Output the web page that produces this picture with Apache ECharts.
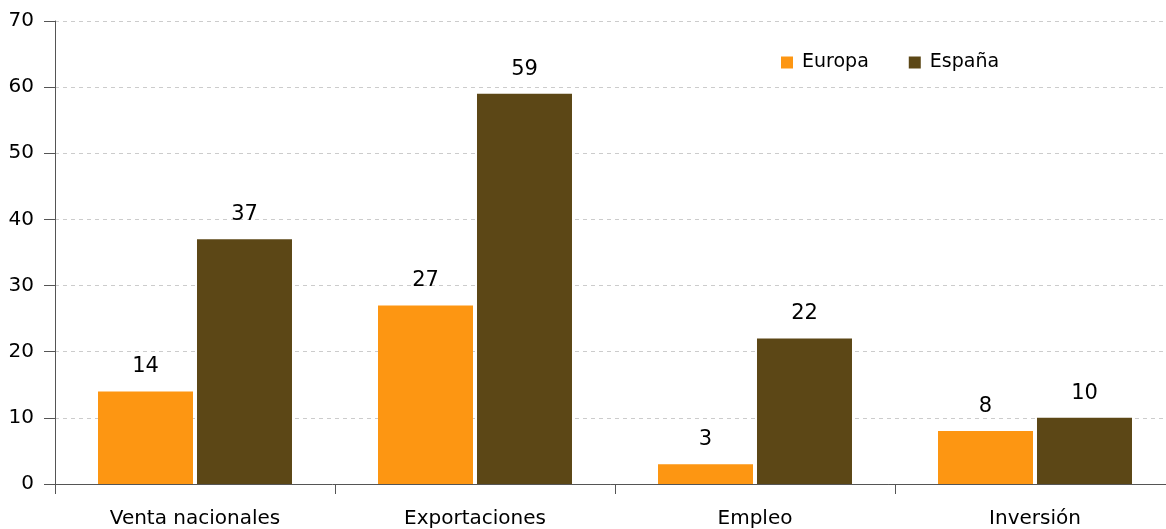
<!DOCTYPE html>
<html><head><meta charset="utf-8">
<script src="https://cdn.jsdelivr.net/npm/echarts@6/dist/echarts.min.js"></script>
<style>html,body{margin:0;padding:0;background:#fff}#c{width:1166px;height:529px}</style>
</head><body><div id="c"></div>
<script>
const categories = ['Venta nacionales', 'Exportaciones', 'Empleo', 'Inversión'];
const europa = [14, 27, 3, 8];
const espana = [37, 59, 22, 10];
const yTicks = { min: 0, max: 70, interval: 10 };

const FONT = '"DejaVu Sans", sans-serif';
const chart = echarts.init(document.getElementById('c'), null, { renderer: 'canvas' });
chart.setOption({
  animation: false,
  textStyle: { fontFamily: FONT },
  grid: { left: 55, top: 21, right: -9, bottom: 45, containLabel: false, outerBoundsMode: 'none' },
  legend: {
    data: ['Europa', 'España'],
    left: 781, top: 53, padding: 0,
    itemWidth: 12, itemHeight: 12, itemGap: 40,
    icon: 'rect',
    textStyle: { fontFamily: FONT, fontSize: 19, color: '#000', padding: [0, 0, 0, 4] }
  },
  xAxis: {
    type: 'category', data: categories,
    axisLine: { lineStyle: { color: '#555', width: 1 } },
    axisTick: { show: true, length: 10, lineStyle: { color: '#555' } },
    axisLabel: { fontFamily: FONT, fontSize: 20, color: '#000', margin: 25 },
    splitLine: { show: false }
  },
  yAxis: {
    type: 'value', min: yTicks.min, max: yTicks.max, interval: yTicks.interval,
    axisLine: { show: true, lineStyle: { color: '#555', width: 1 } },
    axisTick: { show: true, length: 11, lineStyle: { color: '#555' } },
    axisLabel: { fontFamily: FONT, fontSize: 20, color: '#000', margin: 21 },
    splitLine: { show: true, lineStyle: { color: '#ccc', type: [4, 4] } }
  },
  series: [
    { name: 'Europa', type: 'bar', data: europa, barWidth: 95, barGap: '4.2%',
      itemStyle: { color: '#FD9612' },
      label: { show: true, position: 'top', distance: 14, fontFamily: FONT, fontSize: 21, color: '#000' } },
    { name: 'España', type: 'bar', data: espana, barWidth: 95,
      itemStyle: { color: '#5C4716' },
      label: { show: true, position: 'top', distance: 14, fontFamily: FONT, fontSize: 21, color: '#000' } }
  ]
});
</script></body></html>
